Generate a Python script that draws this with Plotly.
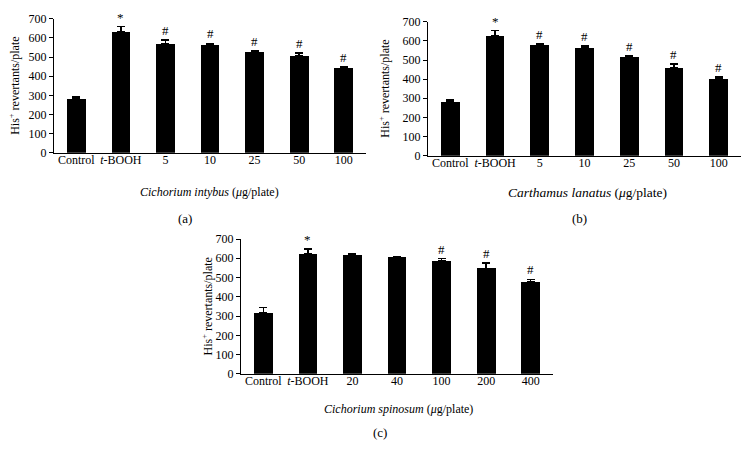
import plotly.graph_objects as go

cats_a = ["Control", "<i>t</i>-BOOH", "5", "10", "25", "50", "100"]
vals_a = [282, 632, 570, 565, 529, 507, 445]
err_a = [10, 27, 20, 7, 5, 15, 4]
marks_a = ["", "*", "#", "#", "#", "#", "#"]

cats_b = ["Control", "<i>t</i>-BOOH", "5", "10", "25", "50", "100"]
vals_b = [282, 629, 580, 563, 518, 462, 403]
err_b = [8, 25, 5, 10, 5, 18, 8]
marks_b = ["", "*", "#", "#", "#", "#", "#"]

cats_c = ["Control", "<i>t</i>-BOOH", "20", "40", "100", "200", "400"]
vals_c = [317, 623, 619, 604, 586, 547, 477]
err_c = [27, 25, 7, 5, 12, 29, 13]
marks_c = ["", "*", "", "", "#", "#", "#"]

titles = ["<i>Cichorium intybus</i> (<i>μ</i>g/plate)",
          "<i>Carthamus lanatus</i> (<i>μ</i>g/plate)",
          "<i>Cichorium spinosum</i> (<i>μ</i>g/plate)"]
labels = ["(a)", "(b)", "(c)"]
ytitle = "His<sup>+</sup> revertants/plate"
yticks = [0, 100, 200, 300, 400, 500, 600, 700]

FONT = "Liberation Serif"
W, H = 750, 464
OFF = 8  # page body margin


def px(x):
    return (x - OFF) / W


def py(y):
    return (H - (y - OFF)) / H


# panel geometry in window pixels: x0, x1, ybottom, ytop
panels = [
    (54, 366, 150, 12),
    (428, 741, 153, 15),
    (241, 553, 378, 239),
]
title_pos = [(210, 191, 12), (587, 191, 13.5), (398, 414, 12)]
label_pos = [(185, 218), (579, 218), (380, 439)]
ytitle_x = [15, 385, 207]

data = [(cats_a, vals_a, err_a, marks_a), (cats_b, vals_b, err_b, marks_b), (cats_c, vals_c, err_c, marks_c)]

fig = go.Figure()
annotations = []
for i, ((cats, vals, errs, marks), (x0, x1, yb, yt)) in enumerate(zip(data, panels)):
    xa = "x" if i == 0 else f"x{i+1}"
    ya = "y" if i == 0 else f"y{i+1}"
    fig.add_trace(go.Bar(
        x=list(range(len(cats))), y=vals, width=0.42,
        marker=dict(color="black", line=dict(width=0)),
        error_y=dict(type="data", symmetric=False, array=errs, arrayminus=[0]*len(errs),
                     color="black", thickness=1.5, width=4),
        xaxis=xa, yaxis=ya, showlegend=False, hoverinfo="skip"))
    xkey = "xaxis" if i == 0 else f"xaxis{i+1}"
    ykey = "yaxis" if i == 0 else f"yaxis{i+1}"
    fig.layout[xkey] = dict(
        domain=[px(x0), px(x1)], anchor=ya, range=[-0.5, len(cats) - 0.5],
        tickmode="array", tickvals=list(range(len(cats))), ticktext=cats,
        showline=True, linecolor="black", linewidth=1, ticks="", showgrid=False,
        zeroline=False, ticklabelstandoff=-4,
        tickfont=dict(family=FONT, size=12, color="black"))
    fig.layout[ykey] = dict(
        domain=[py(yb), py(yt)], anchor=xa, range=[0, 700],
        tickmode="array", tickvals=yticks,
        showline=True, linecolor="black", linewidth=1, ticks="outside", ticklen=4,
        tickcolor="black", showgrid=False, zeroline=False,
        tickfont=dict(family=FONT, size=12, color="black"))
    for j, m in enumerate(marks):
        if m:
            annotations.append(dict(x=j, y=vals[j] + errs[j], xref=xa, yref=ya, text=m,
                                    showarrow=False, yanchor="bottom", yshift=0,
                                    font=dict(family=FONT, size=13, color="black")))
    tx, ty, ts = title_pos[i]
    annotations.append(dict(x=px(tx), y=py(ty), xref="paper", yref="paper", text=titles[i],
                            showarrow=False, xanchor="center", yanchor="middle",
                            font=dict(family=FONT, size=ts, color="black")))
    lx, ly = label_pos[i]
    annotations.append(dict(x=px(lx), y=py(ly), xref="paper", yref="paper", text=labels[i],
                            showarrow=False, xanchor="center", yanchor="middle",
                            font=dict(family=FONT, size=13, color="black")))
    annotations.append(dict(x=px(ytitle_x[i]), y=py((yb + yt) / 2), xref="paper", yref="paper",
                            text=ytitle, textangle=-90, showarrow=False,
                            xanchor="center", yanchor="middle",
                            font=dict(family=FONT, size=12, color="black")))

fig.update_layout(width=W, height=H, margin=dict(l=0, r=0, t=0, b=0),
                  paper_bgcolor="white", plot_bgcolor="white",
                  annotations=annotations, bargap=0)
fig.write_html("out.html")
